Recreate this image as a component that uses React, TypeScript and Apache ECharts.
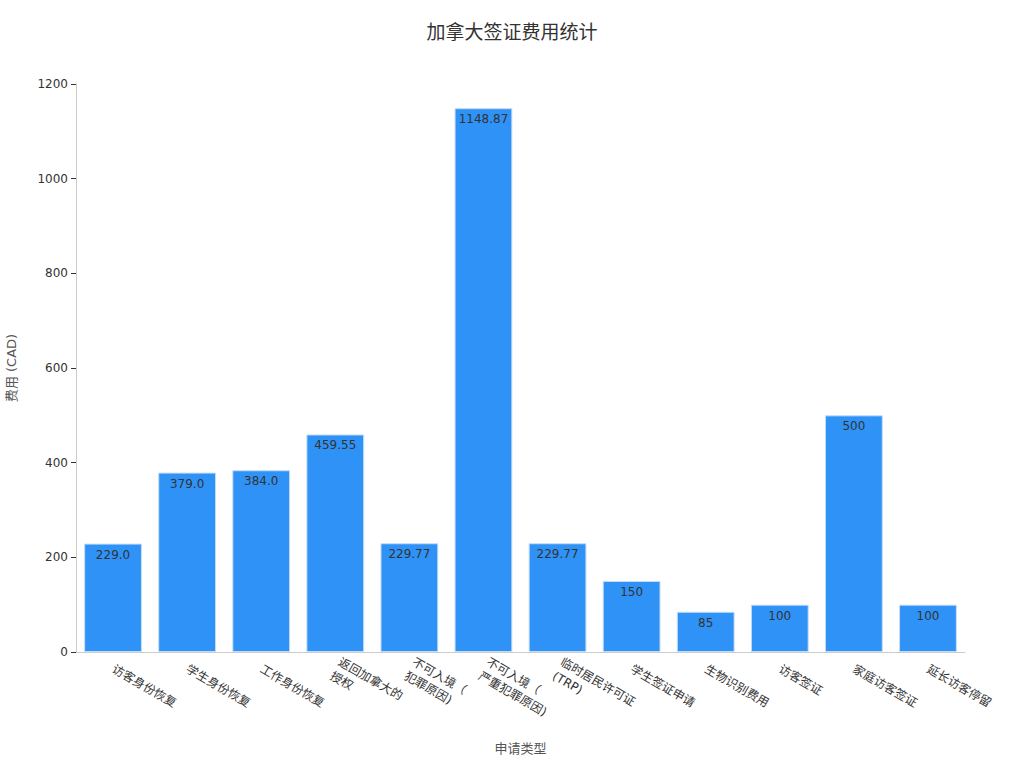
import React, { useEffect, useRef } from 'react';
import * as echarts from 'echarts';

// 申请类型
const categories = [
  '访客身份恢复',
  '学生身份恢复',
  '工作身份恢复',
  '返回加拿大的\n授权',
  '不可入境（\n犯罪原因)',
  '不可入境（\n严重犯罪原因)',
  '临时居民许可证\n(TRP)',
  '学生签证申请',
  '生物识别费用',
  '访客签证',
  '家庭访客签证',
  '延长访客停留',
];

// 费用 (CAD)
const fees = [229.0, 379.0, 384.0, 459.55, 229.77, 1148.87, 229.77, 150, 85, 100, 500, 100];
// 柱顶显示的文字
const feeLabels = ['229.0', '379.0', '384.0', '459.55', '229.77', '1148.87', '229.77', '150', '85', '100', '500', '100'];

const FONT = '"DejaVu Sans", "Noto Sans CJK SC", sans-serif';

const App: React.FC = () => {
  const chartRef = useRef<HTMLDivElement>(null);

  useEffect(() => {
    document.body.style.margin = '0';
    if (!chartRef.current) return;
    const chart = echarts.init(chartRef.current, null, { renderer: 'svg' });

    const option: any = {
      animation: false,
      textStyle: { fontFamily: FONT },
      title: {
        text: '加拿大签证费用统计',
        left: 'center',
        top: 17,
        textStyle: { fontSize: 19, fontWeight: 'normal', color: '#333', fontFamily: FONT },
      },
      grid: { left: 76, right: 59, top: 84, bottom: 116, containLabel: false, outerBoundsMode: 'none' },
      xAxis: {
        type: 'category',
        data: categories,
        name: '申请类型',
        nameLocation: 'middle',
        nameGap: 90,
        nameTextStyle: { fontSize: 13, color: '#555' },
        axisLine: { lineStyle: { color: '#ccc' } },
        axisTick: { alignWithLabel: true, lineStyle: { color: '#999' } },
        axisLabel: { rotate: -30, fontSize: 12, lineHeight: 16, color: '#333', interval: 0, margin: 16 },
      },
      yAxis: {
        type: 'value',
        min: 0,
        max: 1200,
        interval: 200,
        name: '费用 (CAD)',
        nameLocation: 'middle',
        nameGap: 58,
        nameTextStyle: { fontSize: 13, color: '#555' },
        axisLine: { show: true, lineStyle: { color: '#ccc' } },
        axisTick: { show: true, lineStyle: { color: '#333' } },
        axisLabel: { fontSize: 12, color: '#333', formatter: (v: number) => String(v) },
        splitLine: { show: false },
      },
      series: [
        {
          type: 'bar',
          data: fees,
          barWidth: '78%',
          itemStyle: { color: '#2f92f6', borderColor: '#c4dcf7', borderWidth: 1 },
          label: {
            show: true,
            position: 'insideTop',
            fontSize: 12,
            color: '#333',
            formatter: (p: any) => feeLabels[p.dataIndex],
          },
        },
      ],
    };

    chart.setOption(option);
    return () => chart.dispose();
  }, []);

  return <div ref={chartRef} style={{ width: 1024, height: 768 }} />;
};

export default App;
